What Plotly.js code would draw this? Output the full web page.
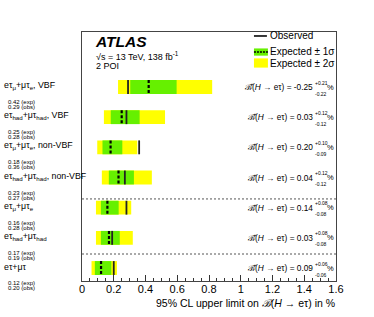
<!DOCTYPE html>
<html>
<head>
<meta charset="utf-8">
<script src="https://cdn.plot.ly/plotly-3.0.1.min.js"></script>
<style>
  body { margin: 0; background: #fff; }
  #plot { width: 374px; height: 317px; }
</style>
</head>
<body>
<div id="plot"></div>
<script>
// channels, top to bottom
var channels = ["eτ<sub>μ</sub>+μτ<sub>e</sub>, VBF", "eτ<sub>had</sub>+μτ<sub>had</sub>, VBF",
                "eτ<sub>μ</sub>+μτ<sub>e</sub>, non-VBF", "eτ<sub>had</sub>+μτ<sub>had</sub>, non-VBF",
                "eτ<sub>μ</sub>+μτ<sub>e</sub>", "eτ<sub>had</sub>+μτ<sub>had</sub>", "eτ+μτ"];

// limits in %
var expLimit = [0.42, 0.25, 0.18, 0.23, 0.16, 0.17, 0.12];
var obsLimit = [0.29, 0.28, 0.36, 0.27, 0.28, 0.19, 0.20];
var lo1 = [0.304, 0.181, 0.129, 0.169, 0.119, 0.119, 0.081];
var hi1 = [0.596, 0.363, 0.254, 0.327, 0.231, 0.238, 0.185];
var lo2 = [0.227, 0.138, 0.096, 0.125, 0.088, 0.088, 0.060];
var hi2 = [0.820, 0.523, 0.348, 0.440, 0.310, 0.320, 0.220];

// best fit branching ratio
var bfVal = ["-0.25", "0.03", "0.20", "0.04", "0.14", "0.03", "0.09"];
var bfUp = ["+0.21", "+0.12", "+0.10", "+0.12", "+0.08", "+0.08", "+0.06"];
var bfDn = ["-0.22", "-0.12", "-0.09", "-0.12", "-0.08", "-0.08", "-0.06"];

var xTicks = [0, 0.2, 0.4, 0.6, 0.8, 1, 1.2, 1.4, 1.6];

var font = "Liberation Sans, Arial, sans-serif";
var rows = channels.map(function (c, i) { return i; });
var half = 0.23;

// vertical line segments for each row
function segs(vals) {
  var x = [], y = [];
  vals.forEach(function (v, i) {
    x.push(v, v, null);
    y.push(i - half, i + half, null);
  });
  return {x: x, y: y};
}
var obsSeg = segs(obsLimit);
var expSeg = segs(expLimit);

var data = [
  {type: "bar", orientation: "h", y: rows, base: lo2,
   x: hi2.map(function (h, i) { return h - lo2[i]; }),
   width: 2 * half, marker: {color: "#ffff00", line: {width: 0}}, hoverinfo: "skip"},
  {type: "bar", orientation: "h", y: rows, base: lo1,
   x: hi1.map(function (h, i) { return h - lo1[i]; }),
   width: 2 * half, marker: {color: "#66f000", line: {width: 0}}, hoverinfo: "skip"},
  {type: "scatter", mode: "lines", x: obsSeg.x, y: obsSeg.y,
   line: {color: "#222", width: 1.8}, hoverinfo: "skip"},
  {type: "scatter", mode: "lines", x: expSeg.x, y: expSeg.y,
   line: {color: "#000", width: 2.2, dash: "3px,2px"}, hoverinfo: "skip"}
];

var annotations = [];
var shapes = [];

function note(xref, yref, x, y, text, size, opts) {
  var a = {xref: xref, yref: yref, x: x, y: y, text: text, showarrow: false,
    xanchor: "left", yanchor: "middle", borderpad: 0,
    font: {family: font, size: size, color: "#000"}};
  for (var k in opts) a[k] = opts[k];
  annotations.push(a);
}

channels.forEach(function (c, i) {
  note("paper", "y", -0.311, i, c, 8.8, {yshift: 1.5});
  note("paper", "y", -0.297, i, expLimit[i].toFixed(2) + " (exp)", 6, {yshift: -15});
  note("paper", "y", -0.297, i, obsLimit[i].toFixed(2) + " (obs)", 6, {yshift: -20});

  note("paper", "y", 0.913, i, "ℬ̂(<i>H</i> → eτ) = " + bfVal[i], 8.3, {xanchor: "right"});
  note("paper", "y", 0.915, i, bfUp[i], 5, {yshift: 4.5});
  note("paper", "y", 0.915, i, bfDn[i], 5, {yshift: -6.5});
  note("paper", "y", 0.996, i, "%", 7.5, {xanchor: "right"});
});

// separators between channel groups
[3.71, 5.535].forEach(function (s) {
  shapes.push({type: "line", xref: "paper", yref: "y", x0: 0, x1: 1, y0: s, y1: s,
    line: {color: "#555", width: 1, dash: "2px,2px"}});
});

// ATLAS label
note("paper", "paper", 0.048, 0.962, "<b><i>ATLAS</i></b>", 15.5, {});
note("paper", "paper", 0.05, 0.903, "√s = 13 TeV, 138 fb<sup>-1</sup>", 9, {});
note("paper", "paper", 0.05, 0.863, "2 POI", 9, {});

// legend drawn by hand
shapes.push({type: "line", xref: "paper", yref: "paper", x0: 0.677, x1: 0.728, y0: 0.984, y1: 0.984,
  line: {color: "#222", width: 1.8}});
shapes.push({type: "rect", xref: "paper", yref: "paper", x0: 0.677, x1: 0.732, y0: 0.905, y1: 0.934,
  fillcolor: "#66f000", line: {width: 0}});
shapes.push({type: "line", xref: "paper", yref: "paper", x0: 0.677, x1: 0.732, y0: 0.920, y1: 0.920,
  line: {color: "#000", width: 1.5, dash: "2px,1px"}});
shapes.push({type: "rect", xref: "paper", yref: "paper", x0: 0.677, x1: 0.732, y0: 0.857, y1: 0.894,
  fillcolor: "#ffff00", line: {width: 0}});
[["Observed", 0.984], ["Expected ± 1σ", 0.920], ["Expected ± 2σ", 0.872]].forEach(function (l) {
  note("paper", "paper", 0.736, l[1], l[0], 10, {});
});

// x axis title, right aligned
note("paper", "paper", 1.0, -0.088, "95% CL upper limit on <i>ℬ</i>(<i>H</i> → eτ) in %", 10.5,
  {xanchor: "right"});

var layout = {
  width: 374, height: 317,
  margin: {l: 82, r: 38, t: 32, b: 36},
  paper_bgcolor: "#fff", plot_bgcolor: "#fff",
  showlegend: false,
  barmode: "overlay",
  xaxis: {range: [0, 1.6], tickvals: xTicks, ticktext: xTicks.map(String),
    ticks: "inside", ticklen: 6, tickcolor: "#333", ticklabelstandoff: -2,
    minor: {dtick: 0.05, ticks: "inside", ticklen: 3, tickcolor: "#333"},
    showgrid: false, zeroline: false, showline: true, mirror: true, linecolor: "#444", linewidth: 1,
    tickfont: {family: font, size: 11, color: "#000"}},
  yaxis: {range: [6.43, -1.823], showticklabels: false, ticks: "", showgrid: false, zeroline: false,
    showline: true, mirror: true, linecolor: "#444", linewidth: 1},
  annotations: annotations,
  shapes: shapes
};

Plotly.newPlot("plot", data, layout, {displayModeBar: false, staticPlot: true});
</script>
</body>
</html>
